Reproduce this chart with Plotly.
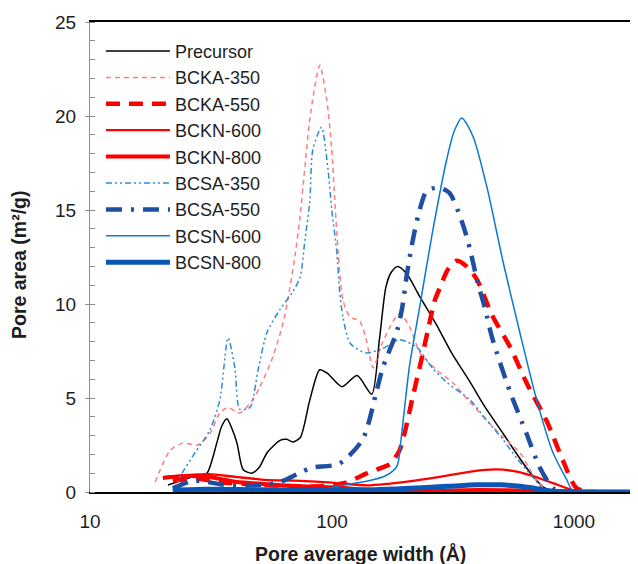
import plotly.graph_objects as go

# ---- data (pore average width in Å, pore area in m²/g) ----
prec_x = [21, 25, 28, 30.4, 33.4, 35, 36.8, 38.5, 40.5, 42.9, 46.6, 50, 54, 61, 65, 69, 74, 81, 89, 96, 110, 127, 146, 157, 167, 176, 187, 204, 228, 270, 312, 370, 430, 510, 589, 680, 760, 870, 1100, 1800]
prec_y = [0.37, 0.7, 0.9, 1.0, 2.6, 3.5, 3.9, 3.4, 2.6, 1.2, 1.0, 1.3, 2.1, 2.75, 2.8, 2.66, 2.9, 4.9, 6.5, 6.3, 5.6, 6.2, 5.2, 8.1, 10.9, 11.7, 12.0, 11.6, 10.5, 8.9, 7.4, 5.9, 4.5, 3.1, 1.9, 0.8, 0.2, 0.02, 0, 0]

bcka350_x = [18.6, 21.4, 24.2, 27.9, 31.3, 34.4, 37.2, 41.6, 47, 50.4, 57, 62.8, 65.6, 70.2, 73.7, 77.3, 81.1, 89, 95, 99.8, 102.7, 105.9, 111, 118.9, 130, 138, 148, 160, 174, 190, 209, 231, 270, 316, 370, 437, 510, 597, 650, 701, 780, 900, 1800]
bcka350_y = [0.53, 2.2, 2.6, 2.5, 3.1, 4.2, 4.5, 4.2, 4.9, 5.6, 7.2, 9.0, 10.2, 12.5, 14.6, 17.3, 19.9, 22.7, 20.9, 18.2, 15.5, 12.9, 10.2, 9.3, 9.1, 8.2, 6.6, 7.8, 8.8, 9.5, 8.8, 7.4, 6.5, 5.8, 4.8, 3.8, 2.9, 2.1, 1.3, 0.6, 0.1, 0, 0]

bcka550_x = [22, 28, 35, 50, 70, 90, 114, 140, 161, 174, 190, 201, 215, 230, 249, 266, 280, 300, 328, 360, 397, 459, 545, 637, 776, 898, 1025, 1200, 1800]
bcka550_y = [0.6, 0.7, 0.5, 0.4, 0.3, 0.3, 0.5, 1.0, 1.3, 1.5, 2.2, 3.3, 5.0, 6.6, 8.6, 10.2, 10.9, 11.8, 12.3, 12.0, 11.3, 9.4, 7.7, 5.8, 3.7, 1.7, 0.2, 0, 0]

bckn600_x = [20.4, 25, 31, 40, 53, 70, 100, 140, 174, 220, 278, 380, 479, 600, 720, 850, 983, 1100, 1800]
bckn600_y = [0.8, 0.9, 0.95, 0.8, 0.65, 0.6, 0.5, 0.35, 0.45, 0.6, 0.8, 1.1, 1.2, 1.05, 0.73, 0.4, 0.1, 0, 0]

bckn800_x = [20, 25, 31, 40, 55, 75, 100, 130, 170, 250, 400, 600, 900, 1800]
bckn800_y = [0.75, 0.85, 0.8, 0.55, 0.4, 0.3, 0.25, 0.15, 0.05, 0.05, 0.1, 0.08, 0.02, 0]

bcsa350_x = [22, 24, 27.2, 31.3, 34.4, 37.2, 39.7, 41.6, 45.8, 49.5, 53.9, 60.9, 68.4, 73.7, 77.3, 81, 83.3, 90.5, 96, 99.8, 104.4, 107.5, 111, 119, 138, 160, 190, 224, 260, 300, 372, 430, 508, 580, 675, 760, 900, 1800]
bcsa350_y = [0.1, 1.0, 2.1, 3.3, 4.9, 8.2, 6.6, 4.4, 4.5, 6.5, 8.5, 9.7, 10.6, 11.4, 13.4, 15.5, 18.2, 19.4, 17.3, 15.0, 12.9, 10.7, 9.3, 7.9, 7.4, 7.6, 8.1, 7.7, 6.6, 5.8, 4.9, 3.9, 2.8, 1.8, 0.8, 0.1, 0, 0]

bcsa550_x = [22, 26.5, 30, 35, 45, 60, 73, 82.7, 107, 134, 153, 162, 170, 186, 195, 204, 215, 228, 246, 275, 306, 346, 372, 397, 428, 459, 545, 637, 722, 818, 900, 1800]
bcsa550_y = [0.2, 0.6, 0.55, 0.4, 0.35, 0.5, 1.0, 1.3, 1.5, 2.8, 5.4, 6.6, 7.3, 8.6, 9.8, 11.6, 13.3, 14.8, 16.0, 16.2, 15.9, 14.3, 12.9, 11.3, 9.8, 8.2, 5.3, 3.1, 1.3, 0.2, 0, 0]

bcsn600_x = [22, 50, 90, 105, 130, 162, 174, 186, 194, 209, 230, 260, 298, 320, 344, 383, 437, 508, 597, 701, 818, 934, 983, 1100, 1800]
bcsn600_y = [0.05, 0.05, 0.1, 0.3, 0.5, 0.8, 1.0, 1.4, 3.1, 6.7, 9.8, 13.8, 17.7, 19.2, 19.9, 18.9, 16.2, 12.3, 8.5, 4.9, 2.1, 0.64, 0.1, 0, 0]

bcsn800_x = [22, 30, 50, 100, 150, 200, 300, 400, 500, 600, 700, 800, 1000, 1800]
bcsn800_y = [0.1, 0.15, 0.12, 0.1, 0.12, 0.18, 0.3, 0.38, 0.38, 0.3, 0.18, 0.05, 0, 0]

y_ticks = [0, 5, 10, 15, 20, 25]
x_ticks = [10, 100, 1000]

series = [
    ("Precursor", prec_x, prec_y, "#000000", 1.5, "solid"),
    ("BCKA-350", bcka350_x, bcka350_y, "#FF7C80", 1.5, "5px,4px"),
    ("BCKA-550", bcka550_x, bcka550_y, "#FF0000", 4.5, "14px,9px"),
    ("BCKN-600", bckn600_x, bckn600_y, "#FF0000", 2.3, "solid"),
    ("BCKN-800", bckn800_x, bckn800_y, "#FF0000", 4.0, "solid"),
    ("BCSA-350", bcsa350_x, bcsa350_y, "#2F8AD6", 1.5, "6px,3px,2px,3px,2px,3px"),
    ("BCSA-550", bcsa550_x, bcsa550_y, "#1F4FA3", 4.5, "16px,9px,3px,9px"),
    ("BCSN-600", bcsn600_x, bcsn600_y, "#0A78D0", 1.5, "solid"),
    ("BCSN-800", bcsn800_x, bcsn800_y, "#0B57B5", 5.0, "solid"),
]

FONT = "Liberation Sans, Arial, sans-serif"
TXT = "#1e1e1e"

# page body has an 8px margin: figure drawn at (8,8) inside the 638x564 window
W, H = 630, 556
L, T, B = 82, 14, 72
PW = W - L            # plot width (px)
PH = H - T - B        # plot height (px)
DECADE = 242.0

fig = go.Figure()
for name, xs, ys, color, width, dash in series:
    fig.add_trace(go.Scatter(
        x=xs, y=ys, name=name, mode="lines",
        line=dict(color=color, width=width, dash=dash, shape="spline", smoothing=0.7),
    ))

fig.update_layout(
    width=W, height=H,
    margin=dict(l=L, r=0, t=T, b=B, autoexpand=False),
    paper_bgcolor="white", plot_bgcolor="white",
    font=dict(family=FONT, size=19, color=TXT),
    showlegend=True,
    legend=dict(
        x=0.02, y=0.977, xanchor="left", yanchor="top",
        bgcolor="rgba(0,0,0,0)", borderwidth=0,
        font=dict(family=FONT, size=18, color=TXT),
        itemwidth=64, tracegroupgap=0,
    ),
    xaxis=dict(
        type="log", range=[1, 1 + PW / DECADE],
        tickvals=x_ticks, ticktext=[str(v) for v in x_ticks],
        showgrid=False, zeroline=False,
        showline=True, linecolor="#000000", linewidth=1.5, mirror=True,
        ticks="", ticklabelstandoff=11,
        tickfont=dict(family=FONT, size=19, color=TXT),
    ),
    yaxis=dict(
        range=[0, 25], tickvals=y_ticks,
        showgrid=False, zeroline=False,
        showline=True, linecolor="#8c8c8c", linewidth=1,
        ticks="outside", ticklen=4, tickcolor="#8c8c8c",
        minor=dict(dtick=1, ticks="inside", ticklen=5, tickcolor="#8c8c8c"),
        ticklabelstandoff=5,
        tickfont=dict(family=FONT, size=19, color=TXT),
    ),
    annotations=[
        dict(text="<b>Pore average width (Å)</b>", xref="paper", yref="paper",
             x=(352 - L) / PW, y=-(545 - (H - B)) / PH, showarrow=False,
             xanchor="center", yanchor="middle", font=dict(family=FONT, size=19.5, color=TXT)),
        dict(text="<b>Pore area (m²/g)</b>", xref="paper", yref="paper",
             x=-(L - 11) / PW, y=((H - B) - 257) / PH, showarrow=False, textangle=-90,
             xanchor="center", yanchor="middle", font=dict(family=FONT, size=19.5, color=TXT)),
    ],
)

fig.write_html("out.html")
